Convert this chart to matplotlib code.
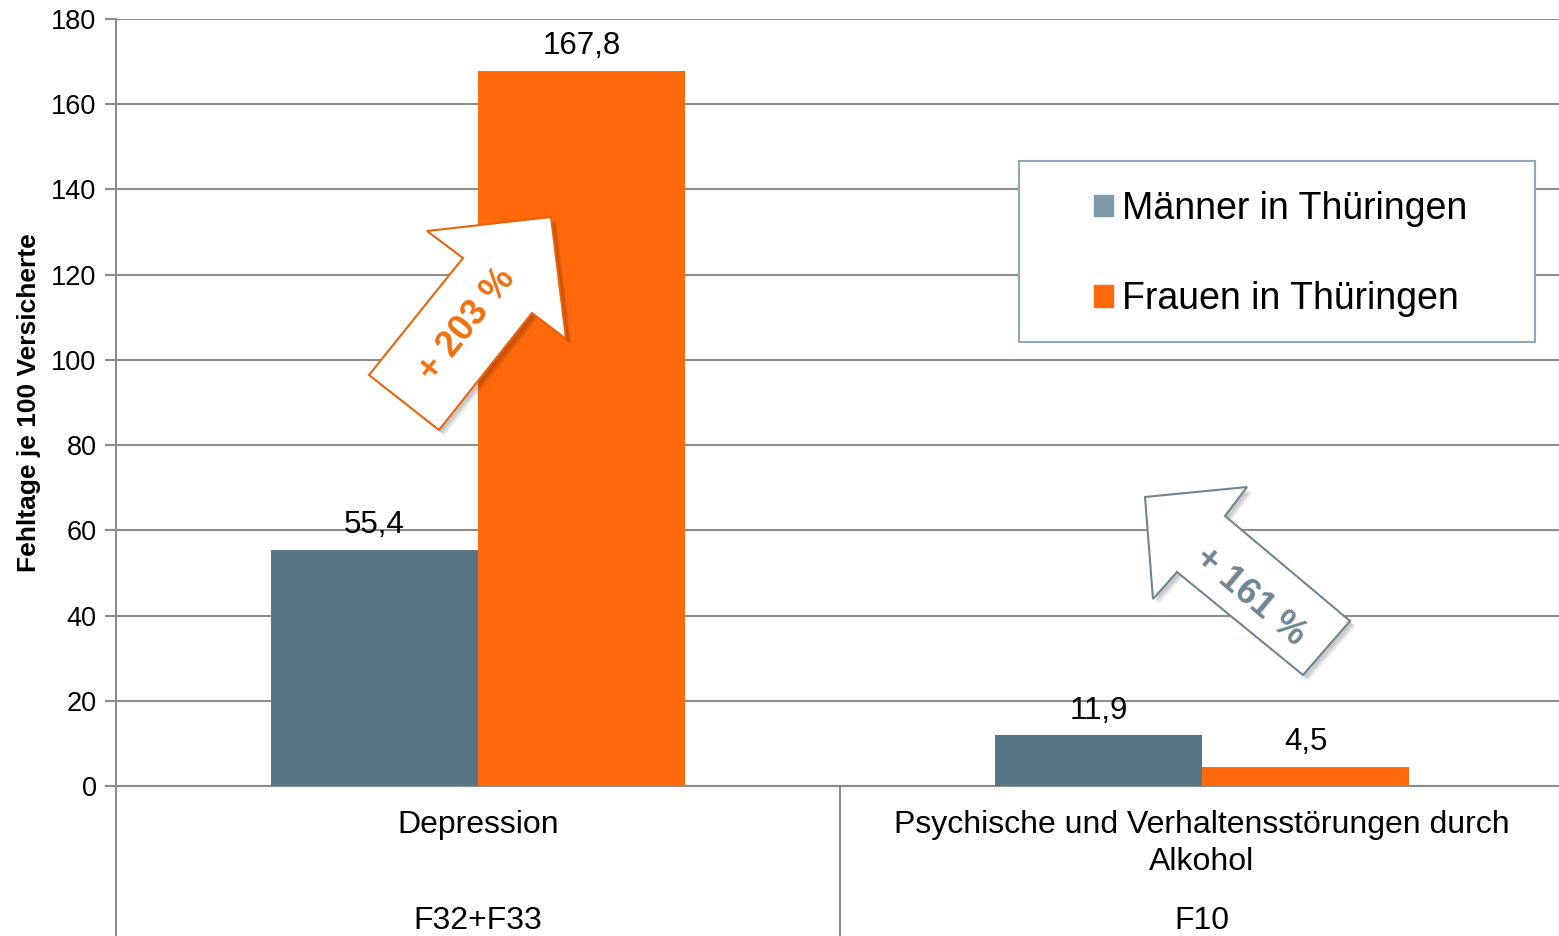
import matplotlib
matplotlib.use("Agg")
import matplotlib.pyplot as plt
from matplotlib.patches import Polygon, Rectangle, Patch
from matplotlib.lines import Line2D
import numpy as np

plt.rcParams['font.family'] = ['Liberation Sans', 'DejaVu Sans']

# ---- data ----
categories = ["Depression", "Psychische und Verhaltensstörungen durch\nAlkohol"]
codes = ["F32+F33", "F10"]
series_names = ["Männer in Thüringen", "Frauen in Thüringen"]
men = [55.4, 11.9]
women = [167.8, 4.5]
yticks = [0, 20, 40, 60, 80, 100, 120, 140, 160, 180]
ylabel = "Fehltage je 100 Versicherte"
change_labels = ["+ 203 %", "+ 161 %"]

W, H = 1559, 936
AX_L, AX_R = 116, 1564
fig = plt.figure(figsize=(W / 100, H / 100), dpi=100)
ax = fig.add_axes([AX_L / W, 150 / H, (AX_R - AX_L) / W, 767 / H])

c_men = "#587686"
c_men_leg = "#7d9aaa"
c_women = "#ff690b"
grid_c = "#8c8c8c"

x = np.arange(len(categories))
bw = 0.286
ax.bar(x - bw / 2, men, bw, color=c_men, zorder=3)
ax.bar(x + bw / 2, women, bw, color=c_women, zorder=3)

def fmt(v):
    return f"{v:.1f}".replace(".", ",")

for xi, v in zip(x - bw / 2, men):
    ax.annotate(fmt(v), (xi, v), xytext=(0, 7), textcoords="offset points",
                ha="center", va="bottom", fontsize=22.5, zorder=5)
for xi, v in zip(x + bw / 2, women):
    ax.annotate(fmt(v), (xi, v), xytext=(0, 7), textcoords="offset points",
                ha="center", va="bottom", fontsize=22.5, zorder=5)

ax.set_xlim(-0.5, len(categories) - 0.5)
ax.set_ylim(0, 180)
ax.set_yticks(yticks)
ax.set_yticklabels([str(t) for t in yticks], fontsize=19.5)
ax.yaxis.grid(True, color=grid_c, lw=1.5, zorder=0)
ax.set_xticks([])
ax.tick_params(axis="y", length=8, width=1.5, color=grid_c, direction="out", pad=6)
for s in ["top", "right"]:
    ax.spines[s].set_visible(False)
ax.spines["bottom"].set_color(grid_c)
ax.spines["bottom"].set_linewidth(1.5)
ax.spines["left"].set_visible(False)

ax.set_ylabel(ylabel, fontsize=19, fontweight="bold", labelpad=7)

# category axis (multi-level) drawn with blended transform
trans = ax.get_xaxis_transform()
for xs in [-0.5, 0.5]:
    ax.add_line(Line2D([xs, xs], [1.0 if xs == -0.5 else 0, -150 / 767], transform=trans,
                       color=grid_c, lw=1.5, clip_on=False, zorder=4))
for xi, cat, code in zip(x, categories, codes):
    ax.text(xi, -24 / 767, cat, transform=trans, ha="center", va="top", fontsize=23,
            linespacing=1.32)
    ax.text(xi, -120 / 767, code, transform=trans, ha="center", va="top", fontsize=23)

# ---- legend ----
def P(px, py):
    return (px / W, 1 - py / H)

fig.patches.append(Rectangle(P(1019, 342), 516 / W, 181 / H, transform=fig.transFigure,
                             facecolor="white", edgecolor="#8fa8b6", lw=1.5, zorder=6))
handles = [Patch(color=c_men_leg), Patch(color=c_women)]
leg = fig.legend(handles, series_names, loc="center left", bbox_to_anchor=P(1075, 254),
                 frameon=False, fontsize=27, handlelength=0.5, handleheight=0.5,
                 handletextpad=0.25, labelspacing=1.45, borderpad=0)
leg.set_zorder(7)

# ---- arrows ----
def arrow(pts, edge, txt, tpos, rot, tcol):
    fpts = [P(*p) for p in pts]
    for dx, dy, a in [(6, 6, 0.04), (5, 5, 0.05), (4, 4, 0.06), (3, 3, 0.07)]:
        sp = [P(px + dx, py + dy) for px, py in pts]
        fig.patches.append(Polygon(sp, closed=True, transform=fig.transFigure,
                                   facecolor="black", alpha=a, edgecolor="none", zorder=8))
    fig.patches.append(Polygon(fpts, closed=True, transform=fig.transFigure,
                               facecolor="white", edgecolor=edge, lw=1.5, zorder=9))
    fig.text(*P(*tpos), txt, rotation=rot, rotation_mode="anchor", ha="center", va="center",
             fontsize=26, fontweight="bold", color=tcol, zorder=10)

arrow([(551, 217), (566, 339), (532, 313), (439, 430), (369, 375), (463, 258), (427, 231)],
      "#e8650f", change_labels[0], (467, 325), 51.5, "#f0700f")
arrow([(1145, 497), (1247, 487), (1225, 516), (1350, 621), (1303, 675), (1177, 572), (1153, 599)],
      "#6e8592", change_labels[1], (1250, 597), -40, "#6e8592")

fig.savefig("out.png", dpi=100)
